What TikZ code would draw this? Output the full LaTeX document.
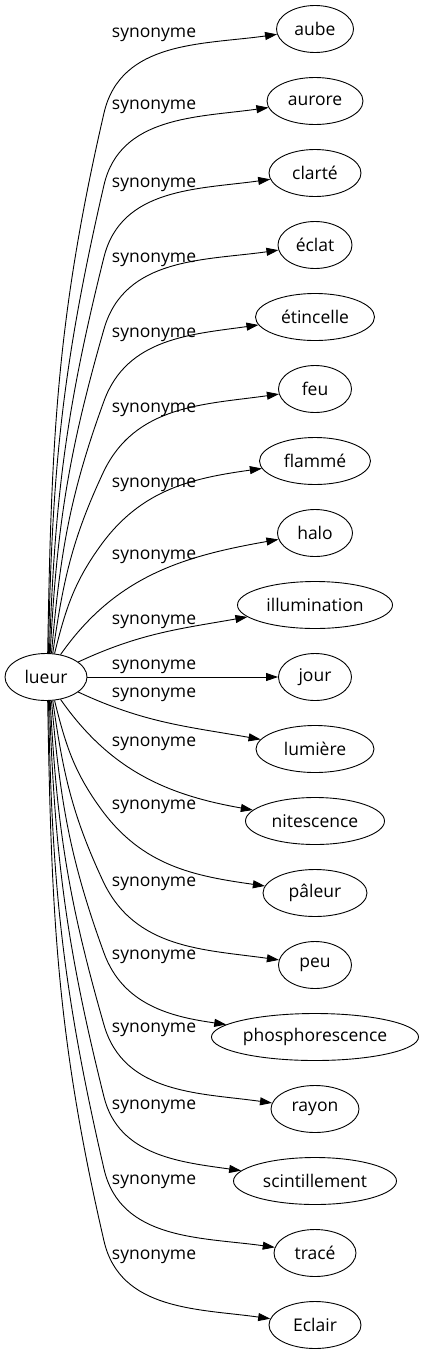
\documentclass[tikz,border=0pt]{standalone}
\usepackage{fontspec}
\setmainfont{Open Sans}
\usetikzlibrary{shapes.geometric,arrows.meta}

\begin{document}
\begin{tikzpicture} [x=1pt, y=1pt,
every node/.style={font=\fontsize{17.5}{20}\selectfont},
term/.style={shape=ellipse, draw, line width=0.9pt, minimum height=47pt, inner sep=1pt},
syn/.style={draw, line width=0.9pt, -{Triangle[length=12pt,width=8pt]}},
lbl/.style={inner sep=0pt}]
\useasboundingbox (0,0) rectangle (423,-1355);
\node [term, minimum width=82pt] (lueur) at (46,-677) {lueur};
\node [term, minimum width=77pt] (aube) at (315,-29) {aube};
\node [term, minimum width=96pt] (aurore) at (315,-101) {aurore};
\node [term, minimum width=92pt] (clarte) at (315,-173) {clarté};
\node [term, minimum width=74pt] (eclat) at (315,-245) {éclat};
\node [term, minimum width=119pt] (etincelle) at (315,-317) {étincelle};
\node [term, minimum width=73pt] (feu) at (315,-389) {feu};
\node [term, minimum width=111pt] (flamme) at (315,-461) {flammé};
\node [term, minimum width=75pt] (halo) at (315,-533) {halo};
\node [term, minimum width=155pt] (illumination) at (315,-605) {illumination};
\node [term, minimum width=73pt] (jour) at (315,-677) {jour};
\node [term, minimum width=118pt] (lumiere) at (315,-749) {lumière};
\node [term, minimum width=139pt] (nitescence) at (315,-821) {nitescence};
\node [term, minimum width=104pt] (paleur) at (315,-893) {pâleur};
\node [term, minimum width=73pt] (peu) at (315,-965) {peu};
\node [term, minimum width=207pt] (phosphorescence) at (315,-1037) {phosphorescence};
\node [term, minimum width=88pt] (rayon) at (315,-1109) {rayon};
\node [term, minimum width=163pt] (scintillement) at (315,-1181) {scintillement};
\node [term, minimum width=82pt] (trace) at (315,-1253) {tracé};
\node [term, minimum width=92pt] (eclair) at (315,-1325) {Eclair};
% synonyme edges, top half
\draw [syn] (lueur.86) to[out=89, in=-103] (104,-113) to[out=77, in=188] (aube);
\node [lbl] at (154,-35) {synonyme};
\draw [syn] (lueur.84) to[out=89, in=-103] (104,-185) to[out=77, in=188] (aurore);
\node [lbl] at (154,-107) {synonyme};
\draw [syn] (lueur.82) to[out=88, in=-104] (104,-257) to[out=76, in=188] (clarte);
\node [lbl] at (154,-185) {synonyme};
\draw [syn] (lueur.80) to[out=87, in=-106] (104,-329) to[out=74, in=188] (eclat);
\node [lbl] at (154,-260) {synonyme};
\draw [syn] (lueur.77) to[out=85, in=-110] (104,-401) to[out=70, in=188] (etincelle);
\node [lbl] at (154,-335) {synonyme};
\draw [syn] (lueur.74) to[out=82, in=-115] (103,-473) to[out=65, in=188] (feu);
\node [lbl] at (154,-410) {synonyme};
\draw [syn] (lueur.70) to[out=76, in=-126] (101,-545) to[out=54, in=188] (flamme);
\node [lbl] at (154,-485) {synonyme};
% middle
\draw [syn] (lueur.57) to[out=55, in=190] (halo);
\node [lbl] at (154,-557) {synonyme};
\draw [syn] (lueur.25) to[out=25, in=190] (illumination);
\node [lbl] at (154,-622) {synonyme};
\draw [syn] (lueur) -- (jour);
\node [lbl] at (154,-667) {synonyme};
\draw [syn] (lueur.-25) to[out=-25, in=170] (lumiere);
\node [lbl] at (154,-695) {synonyme};
\draw [syn] (lueur.-57) to[out=-55, in=170] (nitescence);
\node [lbl] at (154,-744) {synonyme};
% bottom half
\draw [syn] (lueur.-70) to[out=-76, in=126] (101,-809) to[out=-54, in=172] (paleur);
\node [lbl] at (154,-807) {synonyme};
\draw [syn] (lueur.-74) to[out=-82, in=115] (103,-881) to[out=-65, in=172] (peu);
\node [lbl] at (154,-884) {synonyme};
\draw [syn] (lueur.-77) to[out=-85, in=110] (104,-953) to[out=-70, in=172] (phosphorescence);
\node [lbl] at (154,-957) {synonyme};
\draw [syn] (lueur.-80) to[out=-87, in=106] (104,-1025) to[out=-74, in=172] (rayon);
\node [lbl] at (154,-1030) {synonyme};
\draw [syn] (lueur.-82) to[out=-88, in=104] (104,-1097) to[out=-76, in=172] (scintillement);
\node [lbl] at (154,-1107) {synonyme};
\draw [syn] (lueur.-84) to[out=-89, in=103] (104,-1169) to[out=-77, in=172] (trace);
\node [lbl] at (154,-1182) {synonyme};
\draw [syn] (lueur.-86) to[out=-89, in=103] (104,-1241) to[out=-77, in=172] (eclair);
\node [lbl] at (154,-1257) {synonyme};
\end{tikzpicture}
\end{document}
